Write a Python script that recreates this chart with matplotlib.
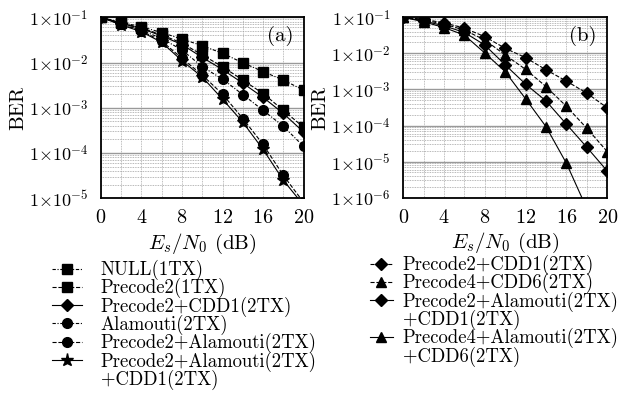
import numpy as np
import matplotlib
matplotlib.use("Agg")
import matplotlib.pyplot as plt
from matplotlib.ticker import LogLocator, FixedLocator, NullFormatter
from matplotlib.lines import Line2D

plt.rcParams['font.family'] = ['cmr10', 'DejaVu Serif']
plt.rcParams['mathtext.fontset'] = 'cm'
plt.rcParams['axes.formatter.use_mathtext'] = True

snr = [0, 2, 4, 6, 8, 10, 12, 14, 16, 18, 20]

# Panel (a)
a_null_1tx = [0.1, 0.077, 0.062, 0.046, 0.033, 0.0236, 0.016, 0.0099, 0.0063, 0.0041, 0.00245]
a_pre2_1tx = [0.1, 0.0755, 0.058, 0.041, 0.027, 0.0147, 0.0081, 0.0041, 0.00207, 8.8e-4, 3.7e-4]
a_pre2_cdd1 = [0.1, 0.074, 0.056, 0.039, 0.025, 0.013, 0.0070, 0.0035, 0.0017, 7.5e-4, 2.9e-4]
a_alamouti = [0.1, 0.072, 0.052, 0.034, 0.019, 0.0081, 0.0043, 0.00196, 8.8e-4, 3.9e-4, 1.4e-4]
a_pre2_ala = [0.1, 0.070, 0.050, 0.030, 0.0124, 0.0053, 0.0020, 5.8e-4, 1.55e-4, 3.2e-5, 8.1e-6]
a_pre2_ala_cdd1 = [0.1, 0.068, 0.048, 0.028, 0.011, 0.0048, 0.00155, 4.8e-4, 1.2e-4, 2.5e-5, 7e-6]

# Panel (b)
b_pre2_cdd1 = [0.1, 0.088, 0.070, 0.050, 0.029, 0.0138, 0.0076, 0.0035, 0.0017, 7.9e-4, 3.1e-4]
b_pre4_cdd6 = [0.1, 0.083, 0.065, 0.044, 0.0235, 0.009, 0.0036, 0.0012, 3.4e-4, 8.4e-5, 1.9e-5]
b_pre2_ala_cdd1 = [0.1, 0.079, 0.058, 0.038, 0.017, 0.0048, 0.0014, 4.8e-4, 1.09e-4, 2.5e-5, 5.5e-6]
b_pre4_ala_cdd6 = [0.1, 0.075, 0.052, 0.032, 0.0102, 0.0031, 5.5e-4, 9.3e-5, 9e-6, 5e-7, None]

labels_a = ['NULL(1TX)', 'Precode2(1TX)', 'Precode2+CDD1(2TX)', 'Alamouti(2TX)',
            'Precode2+Alamouti(2TX)', 'Precode2+Alamouti(2TX)', '+CDD1(2TX)']
labels_b = ['Precode2+CDD1(2TX)', 'Precode4+CDD6(2TX)',
            'Precode2+Alamouti(2TX)', '+CDD1(2TX)', 'Precode4+Alamouti(2TX)', '+CDD6(2TX)']

xticks = [0, 4, 8, 12, 16, 20]

fig = plt.figure(figsize=(6.3, 4.11), dpi=100)
axA = fig.add_axes([0.160, 0.5175, 0.322, 0.4404])
axB = fig.add_axes([0.640, 0.519, 0.3238, 0.439])

dashdot = (0, (3, 1.5, 1, 1.5))
ms = 7.0
lw = 0.8

def sty(ax):
    ax.set_xlim(0, 20)
    ax.xaxis.set_major_locator(FixedLocator(xticks))
    ax.xaxis.set_minor_locator(FixedLocator(list(range(0, 21, 2))))
    ax.yaxis.set_major_locator(LogLocator(base=10, numticks=20))
    ax.yaxis.set_minor_locator(LogLocator(base=10, subs=np.arange(2, 10), numticks=20))
    ax.yaxis.set_minor_formatter(NullFormatter())
    ax.yaxis.set_major_formatter(plt.FuncFormatter(
        lambda v, p: r'$1{\times}10^{%d}$' % int(round(np.log10(v)))))
    ax.grid(True, which='major', axis='y', color='#999999', lw=1.0, ls='-')
    ax.grid(True, which='minor', axis='y', color='#a0a0a0', lw=0.6, ls=(0, (1, 1)))
    ax.grid(True, which='both', axis='x', color='#a8a8a8', lw=0.6, ls=(0, (1, 1)))
    ax.tick_params(which='both', length=0)
    ax.tick_params(axis='y', pad=9, labelsize=13)
    ax.tick_params(axis='x', pad=8, labelsize=14.5)
    for s in ax.spines.values():
        s.set_linewidth(1.3)
    ax.set_xlabel(r'$E_s/N_0$ (dB)', fontsize=15, labelpad=3)
    ax.set_ylabel('BER', fontsize=15, labelpad=1)
    ax.set_axisbelow(True)

axA.set_yscale('log')
axB.set_yscale('log')

series_a = [
    (a_null_1tx, 's', dashdot),
    (a_pre2_1tx, 's', '--'),
    (a_pre2_cdd1, 'D', '-'),
    (a_alamouti, 'o', dashdot),
    (a_pre2_ala, 'o', '--'),
    (a_pre2_ala_cdd1, '*', '-'),
]
hA = []
for vals, mk, ls in series_a:
    m = ms * (0.85 if mk == 'D' else (1.35 if mk == '*' else 1.0))
    h, = axA.plot(snr, vals, color='black', marker=mk, ls=ls, lw=lw, ms=m)
    hA.append(h)

series_b = [
    (b_pre2_cdd1, 'D', '--'),
    (b_pre4_cdd6, '^', '--'),
    (b_pre2_ala_cdd1, 'D', '-'),
    (b_pre4_ala_cdd6, '^', '-'),
]
hB = []
for vals, mk, ls in series_b:
    x = [s for s, v in zip(snr, vals) if v is not None]
    y = [v for v in vals if v is not None]
    m = ms * (0.85 if mk == 'D' else 1.1)
    h, = axB.plot(x, y, color='black', marker=mk, ls=ls, lw=lw, ms=m)
    hB.append(h)

axA.set_ylim(1e-5, 1e-1)
axB.set_ylim(1e-6, 1e-1)
sty(axA)
sty(axB)

axA.text(0.95, 0.95, '(a)', transform=axA.transAxes, ha='right', va='top', fontsize=15)
axB.text(0.95, 0.95, '(b)', transform=axB.transAxes, ha='right', va='top', fontsize=15)

blank = Line2D([], [], color='none', marker=None, ls='none')
legkw = dict(frameon=False, fontsize=13.5, labelspacing=-0.1,
             borderaxespad=0, borderpad=0)
fig.legend(hA + [blank], labels_a, loc='upper left',
           bbox_to_anchor=(52 / 630, 1 - 260 / 411),
           handlelength=1.6, handletextpad=1.0, **legkw)
fig.legend([hB[0], hB[1], hB[2], blank, hB[3], blank], labels_b, loc='upper left',
           bbox_to_anchor=(370 / 630, 1 - 255 / 411),
           handlelength=1.2, handletextpad=0.55, **legkw)

fig.savefig('out.png', dpi=100)
